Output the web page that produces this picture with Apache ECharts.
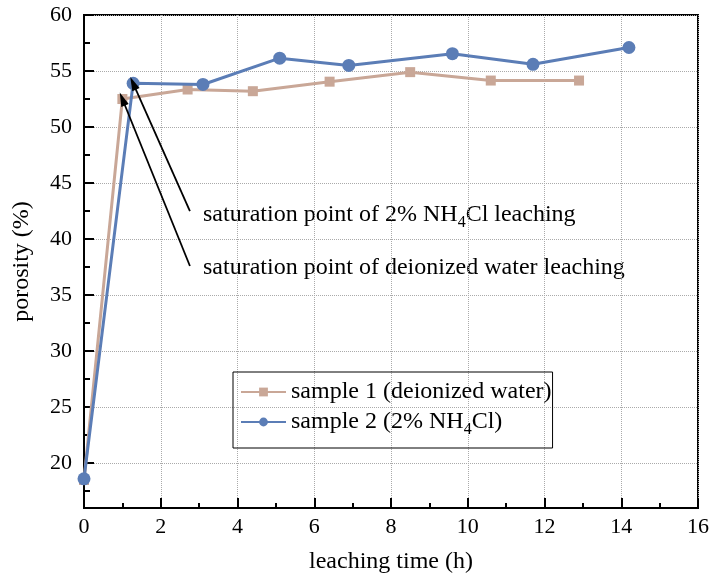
<!DOCTYPE html>
<html style="height: 100%">
<head>
<meta charset="utf-8">
</head>
<body style="height: 100%; margin: 0">
<div id="container" style="width: 712px; height: 579px"></div>
<script type="text/javascript" src="https://cdn.jsdelivr.net/npm/echarts@6/dist/echarts.min.js"></script>
<script type="text/javascript">
// leaching time (h) and porosity (%)
var time1 = [0, 1.0, 2.7, 4.4, 6.4, 8.5, 10.6, 12.9];
var porosity1 = [18.5, 52.5, 53.35, 53.2, 54.05, 54.9, 54.15, 54.15];
var time2 = [0, 1.28, 3.1, 5.1, 6.9, 9.6, 11.7, 14.2];
var porosity2 = [18.6, 53.9, 53.8, 56.15, 55.5, 56.55, 55.6, 57.1];

var seriesNames = ['sample 1 (deionized water)', 'sample 2 (2% NH{sub|4}Cl)'];

// y minor tick positions (half way between labelled ticks)
var yMinorTicks = [17.5, 22.5, 27.5, 32.5, 37.5, 42.5, 47.5, 52.5, 57.5];

// arrow tails near the labels, in data units; heads point at the saturation points
var arrowNH4Tail = [2.76, 42.5];
var arrowWaterTail = [2.76, 37.6];

var font = 'Liberation Serif';
var tan = '#c9a797';
var blue = '#5b7db6';

function pairs(xs, ys) {
    var res = [];
    for (var i = 0; i < xs.length; i++) res.push([xs[i], ys[i]]);
    return res;
}

var subStyle = { fontFamily: font, fontSize: 16, color: '#000', verticalAlign: 'bottom', padding: [0, 0, -4, 0] };

var dom = document.getElementById('container');
var myChart = echarts.init(dom);

var option = {
    animation: false,
    backgroundColor: '#fff',
    grid: {
        left: 84, right: 14, top: 15, bottom: 68,
        show: true, borderColor: '#000', borderWidth: 2
    },
    legend: {
        left: 233, top: 372,
        orient: 'vertical',
        borderColor: '#000', borderWidth: 1,
        padding: [8, 1, 10, 7],
        itemGap: 6,
        itemWidth: 45, itemHeight: 11,
        data: ['s1', 's2'],
        formatter: function (name) {
            return name === 's1' ? seriesNames[0] : seriesNames[1];
        },
        textStyle: {
            fontFamily: font, fontSize: 24, color: '#000',
            rich: { sub: subStyle }
        }
    },
    xAxis: {
        type: 'value', min: 0, max: 16, interval: 2,
        name: 'leaching time (h)', nameLocation: 'middle', nameGap: 42,
        nameTextStyle: { fontFamily: font, fontSize: 24, color: '#000' },
        axisLine: { lineStyle: { color: '#000', width: 2 } },
        axisTick: { inside: true, length: 10, lineStyle: { width: 2 } },
        minorTick: { show: true, splitNumber: 2, length: 5, lineStyle: { color: '#000', width: 2 } },
        axisLabel: { fontFamily: font, fontSize: 22, color: '#000', margin: 8 },
        splitLine: { show: true, lineStyle: { color: '#aaa', type: 'dotted', width: 1 } }
    },
    yAxis: [
        {
            type: 'value', min: 16, max: 60, splitNumber: 9,
            name: 'porosity (%)', nameLocation: 'middle', nameGap: 50,
            nameTextStyle: { fontFamily: font, fontSize: 24, color: '#000' },
            axisLine: { lineStyle: { color: '#000', width: 2 } },
            axisTick: { inside: true, length: 10, lineStyle: { width: 2 } },
            axisLabel: {
                fontFamily: font, fontSize: 22, color: '#000', margin: 12,
                formatter: function (v) { return v % 5 === 0 ? v : ''; }
            },
            splitLine: { show: true, lineStyle: { color: '#aaa', type: 'dotted', width: 1 } }
        },
        {
            type: 'value', min: 16, max: 60, position: 'left',
            axisLine: { show: false },
            axisTick: { show: true, inside: true, length: 6, customValues: yMinorTicks, lineStyle: { color: '#000', width: 2 } },
            axisLabel: { show: false },
            splitLine: { show: false }
        }
    ],
    graphic: [
        {
            type: 'text', left: 203, top: 203,
            style: {
                text: 'saturation point of 2% NH{sub|4}Cl leaching',
                font: '24px "Liberation Serif"', fill: '#000',
                rich: { sub: subStyle }
            }
        },
        {
            type: 'text', left: 203, top: 256,
            style: {
                text: 'saturation point of deionized water leaching',
                font: '24px "Liberation Serif"', fill: '#000'
            }
        }
    ],
    series: [
        {
            name: 's1', type: 'line',
            data: pairs(time1, porosity1),
            symbol: 'rect', symbolSize: 10,
            itemStyle: { color: tan },
            lineStyle: { color: tan, width: 3 },
            z: 2
        },
        {
            name: 's2', type: 'line',
            data: pairs(time2, porosity2),
            symbol: 'circle', symbolSize: 13,
            itemStyle: { color: blue },
            lineStyle: { color: blue, width: 3 },
            z: 3
        },
        {
            name: 'arrows', type: 'line',
            data: [arrowNH4Tail],
            symbol: 'none',
            lineStyle: { width: 0 },
            color: '#000',
            z: 10,
            markLine: {
                silent: true,
                symbol: ['none', 'triangle'],
                symbolSize: [8, 14],
                symbolOffset: [0, 0],
                label: { show: false },
                itemStyle: { color: '#000' },
                lineStyle: { color: '#000', width: 1.8, type: 'solid' },
                data: [
                    [{ coord: arrowNH4Tail }, { coord: [time2[1], porosity2[1]] }],
                    [{ coord: arrowWaterTail }, { coord: [time1[1], porosity1[1]] }]
                ]
            }
        }
    ]
};

myChart.setOption(option);
</script>
</body>
</html>
